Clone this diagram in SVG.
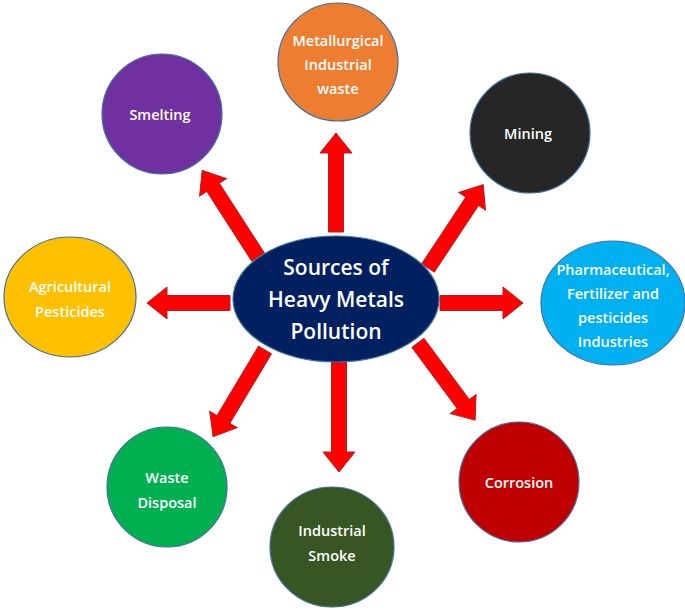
<svg xmlns="http://www.w3.org/2000/svg" width="685" height="610" viewBox="0 0 685 610">
<style>
.n{stroke:#41719C;stroke-width:1.2}
.t{fill:#fff;font-family:"Open Sans","Liberation Sans",sans-serif;font-size:14.5px;font-weight:600;text-anchor:middle}
.c{font-size:21px}
.a{fill:#FF0000;stroke:#B02020;stroke-width:1}
</style>
<rect width="685" height="610" fill="#fff"/>
<g id="connectors">
<path class="a" transform="translate(336,232) rotate(-90)" d="M0,-7.5 H79 V-16 L99,0 L79,16 V7.5 H0 Z"/>
<path class="a" transform="translate(230,303) rotate(180)" d="M0,-7.5 H63 V-16 L83,0 L63,16 V7.5 H0 Z"/>
<path class="a" transform="translate(440,303)" d="M0,-7.5 H63 V-16 L83,0 L63,16 V7.5 H0 Z"/>
<path class="a" transform="translate(339,362) rotate(90)" d="M0,-7.5 H90 V-16 L110,0 L90,16 V7.5 H0 Z"/>
<path class="a" transform="translate(258,257) rotate(-122.8)" d="M0,-7.5 H83 V-16 L103,0 L83,16 V7.5 H0 Z"/>
<path class="a" transform="translate(428,268) rotate(-56.5)" d="M0,-7.5 H80 V-16 L100,0 L80,16 V7.5 H0 Z"/>
<path class="a" transform="translate(265,350) rotate(120.9)" d="M0,-7.5 H81 V-16 L101,0 L81,16 V7.5 H0 Z"/>
<path class="a" transform="translate(418,343) rotate(53.5)" d="M0,-7.5 H76 V-16 L96,0 L76,16 V7.5 H0 Z"/>
</g>
<g id="center"><ellipse class="n" cx="336" cy="299" rx="103" ry="63" fill="#002060" stroke="#8FAADC" stroke-width="2"/>
<text class="t c" x="336" y="275">Sources of</text><text class="t c" x="336" y="307">Heavy Metals</text><text class="t c" x="336" y="339">Pollution</text></g>
<g id="metallurgical"><ellipse class="n" cx="338" cy="62" rx="60" ry="59" fill="#ED7D31"/>
<text class="t" x="338" y="46">Metallurgical</text><text class="t" x="338" y="70">Industrial</text><text class="t" x="338" y="94">waste</text></g>
<g id="smelting"><ellipse class="n" cx="162" cy="114" rx="60" ry="60" fill="#7030A0"/>
<text class="t" x="160" y="120">Smelting</text></g>
<g id="mining"><ellipse class="n" cx="530" cy="133" rx="60" ry="60" fill="#262626"/>
<text class="t" x="528" y="139">Mining</text></g>
<g id="agricultural"><ellipse class="n" cx="70" cy="297" rx="66" ry="60" fill="#FFC000"/>
<text class="t" x="70" y="292">Agricultural</text><text class="t" x="70" y="317">Pesticides</text></g>
<g id="pharma"><ellipse class="n" cx="613" cy="303" rx="72" ry="62" fill="#00B0F0"/>
<text class="t" x="613" y="275">Pharmaceutical,</text><text class="t" x="613" y="299">Fertilizer and</text><text class="t" x="613" y="323">pesticides</text><text class="t" x="613" y="347">Industries</text></g>
<g id="waste"><ellipse class="n" cx="167" cy="487" rx="60" ry="60" fill="#00B050"/>
<text class="t" x="167" y="483">Waste</text><text class="t" x="167" y="508">Disposal</text></g>
<g id="smoke"><ellipse class="n" cx="332" cy="547" rx="62" ry="60" fill="#375623"/>
<text class="t" x="332" y="536">Industrial</text><text class="t" x="332" y="561">Smoke</text></g>
<g id="corrosion"><ellipse class="n" cx="519" cy="482" rx="60" ry="60" fill="#C00000"/>
<text class="t" x="519" y="488">Corrosion</text></g>
</svg>
